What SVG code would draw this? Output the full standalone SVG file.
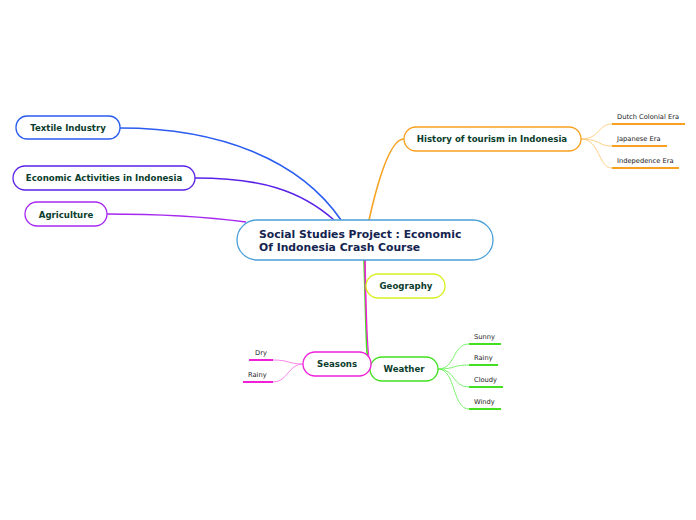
<svg xmlns="http://www.w3.org/2000/svg" width="696" height="520" viewBox="0 0 696 520">
<style>
.n{fill:#fff;stroke-width:1.3}
.t{font-family:"DejaVu Sans",Verdana,sans-serif;font-weight:bold;font-size:8.6px;fill:#0b3d2c;text-anchor:middle}
.c{font-family:"DejaVu Sans",Verdana,sans-serif;font-weight:bold;font-size:10.8px;fill:#14234f}
.s{font-family:"DejaVu Sans",Verdana,sans-serif;font-size:6.7px;fill:#222}
.l{fill:none}
</style>
<rect width="696" height="520" fill="#fff"/>
<g id="connectors">
<path class="l" d="M341,220 C300,160 220,128 120,128" stroke="#2a5cf0" stroke-width="1.6"/>
<path class="l" d="M334,220 C300,190 260,178 195,178" stroke="#5a22e8" stroke-width="1.6"/>
<path class="l" d="M246,222 C200,216 160,214 107,214" stroke="#a628f0" stroke-width="1.4"/>
<path class="l" d="M369,220 C378,180 390,139 404,139" stroke="#f8a020" stroke-width="1.6"/>
<path class="l" d="M365,260 C365,275 365,286 367,286" stroke="#d8f020" stroke-width="1.6"/>
<path class="l" d="M364,260 C366,320 366,369 370,369" stroke="#44e020" stroke-width="1.6"/>
<path class="l" d="M365,260 C366,320 368,364 371,364" stroke="#f020d8" stroke-width="1.6"/>
<g stroke="#fcc878" stroke-width="0.9" fill="none">
<path d="M581,139 C600,139 598,124 612,124"/>
<path d="M581,139 C600,139 598,146 612,146"/>
<path d="M581,139 C600,139 598,168 612,168"/>
</g>
<g stroke="#6ff060" stroke-width="0.9" fill="none">
<path d="M438,369 C456,369 452,344 469,344"/>
<path d="M438,369 C456,369 452,365 469,365"/>
<path d="M438,369 C456,369 452,387 469,387"/>
<path d="M438,369 C456,369 452,409 469,409"/>
</g>
<g stroke="#f878e8" stroke-width="0.9" fill="none">
<path d="M303,364 C288,364 290,360 273,360"/>
<path d="M303,364 C288,364 288,382 273,382"/>
</g>
</g>
<g id="central">
<rect class="n" x="237" y="220" width="256" height="40" rx="20" stroke="#4a9fd8"/>
<text class="c" x="259" y="238">Social Studies Project : Economic</text>
<text class="c" x="259" y="251">Of Indonesia Crash Course</text>
</g>
<g id="textile">
<rect class="n" x="16" y="116" width="104" height="23" rx="11" stroke="#2a5cf0"/>
<text class="t" x="68" y="131">Textile Industry</text>
</g>
<g id="economic">
<rect class="n" x="13" y="166" width="182" height="24" rx="12" stroke="#5a22e8"/>
<text class="t" x="104" y="181">Economic Activities in Indonesia</text>
</g>
<g id="agriculture">
<rect class="n" x="25" y="202" width="82" height="24" rx="12" stroke="#a628f0"/>
<text class="t" x="66" y="218">Agriculture</text>
</g>
<g id="history">
<rect class="n" x="404" y="127" width="177" height="24" rx="12" stroke="#f8a020"/>
<text class="t" x="492" y="142">History of tourism in Indonesia</text>
</g>
<g id="dutch">
<text class="s" x="617" y="119">Dutch Colonial Era</text>
<line x1="612" y1="124" x2="685" y2="124" stroke="#f8a020" stroke-width="2"/>
</g>
<g id="japanese">
<text class="s" x="617" y="141">Japanese Era</text>
<line x1="612" y1="146" x2="667" y2="146" stroke="#f8a020" stroke-width="2"/>
</g>
<g id="independence">
<text class="s" x="617" y="163">Indepedence Era</text>
<line x1="612" y1="168" x2="679" y2="168" stroke="#f8a020" stroke-width="2"/>
</g>
<g id="geography">
<rect class="n" x="366" y="274" width="79" height="24" rx="12" stroke="#d8f020"/>
<text class="t" x="406" y="289">Geography</text>
</g>
<g id="weather">
<rect class="n" x="370" y="357" width="68" height="24" rx="12" stroke="#44e020"/>
<text class="t" x="404" y="372">Weather</text>
</g>
<g id="sunny">
<text class="s" x="474" y="339">Sunny</text>
<line x1="469" y1="344" x2="501" y2="344" stroke="#44e020" stroke-width="2"/>
</g>
<g id="rainy-w">
<text class="s" x="474" y="360">Rainy</text>
<line x1="469" y1="365" x2="498" y2="365" stroke="#44e020" stroke-width="2"/>
</g>
<g id="cloudy">
<text class="s" x="474" y="382">Cloudy</text>
<line x1="469" y1="387" x2="503" y2="387" stroke="#44e020" stroke-width="2"/>
</g>
<g id="windy">
<text class="s" x="474" y="404">Windy</text>
<line x1="469" y1="409" x2="501" y2="409" stroke="#44e020" stroke-width="2"/>
</g>
<g id="seasons">
<rect class="n" x="303" y="352" width="68" height="24" rx="12" stroke="#f020d8"/>
<text class="t" x="337" y="367">Seasons</text>
</g>
<g id="dry">
<text class="s" x="255" y="355">Dry</text>
<line x1="249" y1="360" x2="273" y2="360" stroke="#f020d8" stroke-width="2"/>
</g>
<g id="rainy-s">
<text class="s" x="248" y="377">Rainy</text>
<line x1="243" y1="382" x2="273" y2="382" stroke="#f020d8" stroke-width="2"/>
</g>
</svg>
